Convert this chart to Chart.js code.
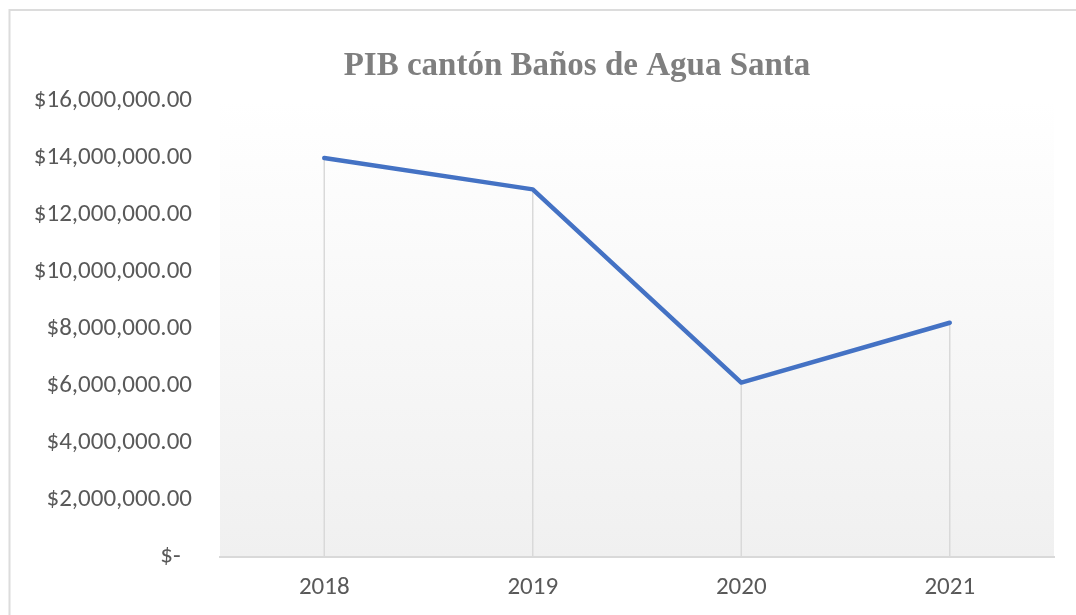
<!DOCTYPE html>
<html>
<head>
<meta charset="utf-8">
<script src="https://cdn.jsdelivr.net/npm/chart.js@4/dist/chart.umd.min.js"></script>
<style>
  html, body { margin: 0; padding: 0; background: #fff; }
  #wrap { width: 1076px; height: 615px; position: relative; }
</style>
</head>
<body>
<div id="wrap"><canvas id="myChart" width="1076" height="615"></canvas></div>
<script>
// data
const years = ["2018", "2019", "2020", "2021"];
const pib = [14000000, 12900000, 6120000, 8220000];
const yTicks = [0, 2000000, 4000000, 6000000, 8000000, 10000000, 12000000, 14000000, 16000000];
const titleText = "PIB cantón Baños de Agua Santa";

const labelFont = { family: "Carlito, 'Open Sans', sans-serif", size: 25 };

const money = (v) => {
  if (v === 0) return "$-  ";
  return "$" + v.toLocaleString("en-US", { minimumFractionDigits: 2, maximumFractionDigits: 2 });
};

// frame, plot background and title (excel centres it on the frame, not the canvas)
const frame = {
  id: "frame",
  beforeDraw(chart) {
    const ctx = chart.ctx, a = chart.chartArea;
    ctx.save();
    ctx.fillStyle = "#fff";
    ctx.fillRect(0, 0, chart.width, chart.height);
    ctx.strokeStyle = "#dcdcdc";
    ctx.lineWidth = 2;
    ctx.beginPath();
    ctx.moveTo(9.5, chart.height + 5);
    ctx.lineTo(9.5, 10);
    ctx.lineTo(chart.width + 5, 10);
    ctx.stroke();
    const g = ctx.createLinearGradient(0, a.top, 0, a.bottom);
    g.addColorStop(0, "#ffffff");
    g.addColorStop(1, "#f0f0f0");
    ctx.fillStyle = g;
    ctx.fillRect(a.left, a.top, a.right - a.left, a.bottom - a.top);

    ctx.fillStyle = "#7f7f7f";
    ctx.font = "bold 33px 'Liberation Serif', 'Times New Roman', serif";
    ctx.textAlign = "center";
    ctx.textBaseline = "alphabetic";
    ctx.fillText(titleText, 577, 75);
    ctx.restore();
  }
};

// vertical drop lines from each point down to the axis
const dropLines = {
  id: "dropLines",
  beforeDatasetsDraw(chart) {
    const ctx = chart.ctx;
    const meta = chart.getDatasetMeta(0);
    const bottom = chart.scales.y.getPixelForValue(0);
    ctx.save();
    ctx.strokeStyle = "#d9d9d9";
    ctx.lineWidth = 1.5;
    meta.data.forEach((p) => {
      ctx.beginPath();
      ctx.moveTo(p.x, p.y);
      ctx.lineTo(p.x, bottom);
      ctx.stroke();
    });
    ctx.restore();
  }
};

const config = {
  type: "line",
  data: {
    labels: years,
    datasets: [{
      label: "PIB",
      data: pib,
      borderColor: "#4472C4",
      borderWidth: 4.5,
      borderCapStyle: "round",
      borderJoinStyle: "round",
      pointRadius: 0,
      tension: 0,
      fill: false
    }]
  },
  options: {
    responsive: false,
    animation: false,
    layout: { padding: { left: 0, right: 22, top: 101, bottom: 0 } },
    plugins: {
      legend: { display: false },
      tooltip: { enabled: false },
      title: { display: false }
    },
    scales: {
      x: {
        offset: true,
        grid: { display: false, drawTicks: false, offset: true },
        border: { display: true, color: "#d9d9d9", width: 2 },
        ticks: { color: "#595959", font: labelFont, padding: 16 },
        afterFit: (s) => { s.height = 58; }
      },
      y: {
        min: 0,
        max: 16000000,
        afterBuildTicks: (s) => { s.ticks = yTicks.map((v) => ({ value: v })); },
        grid: { display: false, drawTicks: false },
        border: { display: false },
        ticks: { color: "#595959", font: labelFont, padding: 28, callback: (v) => money(v) },
        afterFit: (s) => { s.width = 220; }
      }
    }
  },
  plugins: [frame, dropLines]
};

const myChart = new Chart(document.getElementById("myChart"), config);
</script>
</body>
</html>
